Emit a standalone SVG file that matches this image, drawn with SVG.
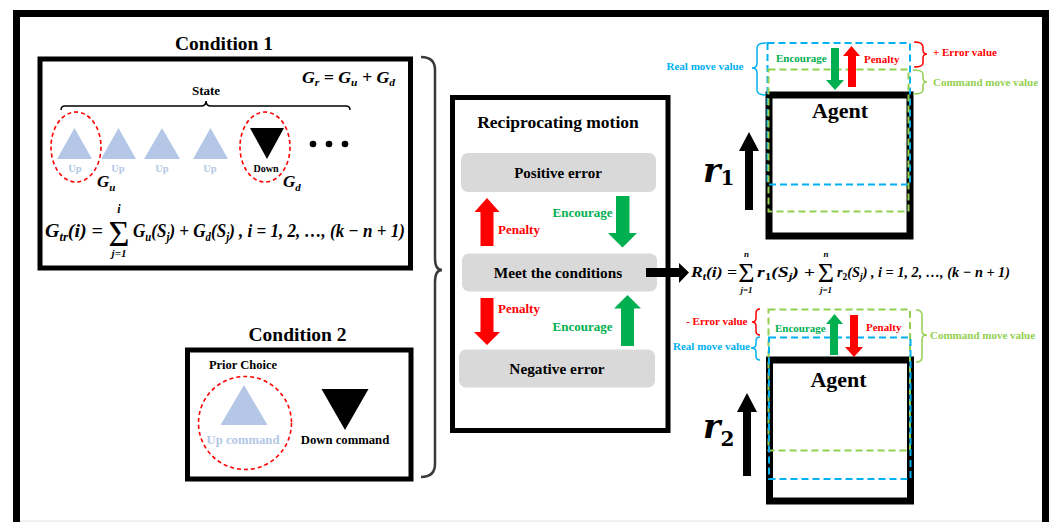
<svg xmlns="http://www.w3.org/2000/svg" width="1054" height="522" viewBox="0 0 1054 522">
<style>
.t{font-family:"Liberation Serif","Times New Roman",serif;font-weight:bold}
.m{font-family:"Liberation Serif","Times New Roman",serif;font-weight:bold;font-style:italic}
.rr{font-family:"DejaVu Serif",serif;font-weight:bold;font-style:italic}
.up{font-style:normal}
.sig{font-family:"Liberation Serif","Times New Roman",serif}
.box{fill:none;stroke:#000}
.gray{fill:#d9d9d9}
.red{fill:#ff0000}
.grn{fill:#00b050}
.ub{fill:#b4c7e7}
.dR{fill:none;stroke:#ff0000;stroke-width:1.6;stroke-dasharray:4 3}
.dB{fill:none;stroke:#00b0f0;stroke-width:2;stroke-dasharray:7 4}
.dG{fill:none;stroke:#92d050;stroke-width:2;stroke-dasharray:7 4}
.br{fill:none;stroke-width:1.5}
</style>
<rect width="1054" height="522" fill="#fff"/>
<rect id="frame" x="16.5" y="13.5" width="1029" height="530" class="box" stroke-width="7"/>
<line x1="20" y1="521" x2="1042" y2="521" stroke="#e2e2e2" stroke-width="1"/>

<g id="condition1">
  <text x="224" y="50" class="t" font-size="19.5" text-anchor="middle">Condition 1</text>
  <rect x="40" y="59" width="370.5" height="209" class="box" stroke-width="5"/>
  <text x="302" y="83" class="m" font-size="17" textLength="93" lengthAdjust="spacingAndGlyphs">G<tspan font-size="11" dy="3">r</tspan><tspan dy="-3"> = G</tspan><tspan font-size="11" dy="3">u</tspan><tspan dy="-3"> + G</tspan><tspan font-size="11" dy="3">d</tspan></text>
  <text x="206" y="95" class="t" font-size="13" text-anchor="middle">State</text>
  <path d="M61,110 Q61,106 65,106 L201,106 Q206,106 206,101 Q206,106 211,106 L346,106 Q350,106 350,110" class="br" stroke="#000"/>
  <polygon points="74.5,128 92,159 57,159" class="ub"/>
  <polygon points="118.5,128 136,159 101,159" class="ub"/>
  <polygon points="162,128 180,159 144,159" class="ub"/>
  <polygon points="210.5,128 228,159 193,159" class="ub"/>
  <polygon points="250,128 284,128 267,159" fill="#000"/>
  <g class="t" font-size="10.5" text-anchor="middle" fill="#b4c7e7">
    <text x="75" y="172">Up</text>
    <text x="118" y="172">Up</text>
    <text x="162" y="172">Up</text>
    <text x="210" y="172">Up</text>
  </g>
  <text x="266" y="172" class="t" font-size="10" text-anchor="middle">Down</text>
  <ellipse cx="76" cy="147" rx="25" ry="35" class="dR"/>
  <ellipse cx="265" cy="147" rx="25" ry="35" class="dR"/>
  <circle cx="313" cy="144" r="3.3"/>
  <circle cx="329" cy="144" r="3.3"/>
  <circle cx="345" cy="144" r="3.3"/>
  <text x="97" y="187" class="m" font-size="17">G<tspan font-size="11" dy="4">u</tspan></text>
  <text x="283" y="187" class="m" font-size="17">G<tspan font-size="11" dy="4">d</tspan></text>
  <text x="45" y="237" class="m" font-size="19" textLength="58" lengthAdjust="spacingAndGlyphs">G<tspan font-size="12" dy="4">tr</tspan><tspan dy="-4">(i) =</tspan></text>
  <text x="119" y="246" class="sig" font-size="36" text-anchor="middle">Σ</text>
  <text x="119" y="213" class="m" font-size="12" text-anchor="middle">i</text>
  <text x="119" y="257" class="m" font-size="11" text-anchor="middle">j=1</text>
  <text x="133" y="237" class="m" font-size="19" textLength="272" lengthAdjust="spacingAndGlyphs">G<tspan font-size="12" dy="4">u</tspan><tspan dy="-4">(S</tspan><tspan font-size="12" dy="4">j</tspan><tspan dy="-4">) + G</tspan><tspan font-size="12" dy="4">d</tspan><tspan dy="-4">(S</tspan><tspan font-size="12" dy="4">j</tspan><tspan dy="-4">) , i = 1, 2, …, (k − n + 1)</tspan></text>
</g>

<g id="condition2">
  <text x="297.5" y="341" class="t" font-size="19.5" text-anchor="middle">Condition 2</text>
  <rect x="187.5" y="350" width="223.5" height="129" class="box" stroke-width="5"/>
  <text x="243" y="369" class="t" font-size="12.5" text-anchor="middle">Prior Choice</text>
  <circle cx="245" cy="423" r="46.5" class="dR"/>
  <polygon points="244,385 267.5,425 220.5,425" class="ub"/>
  <text x="243" y="444" class="t" font-size="12.7" text-anchor="middle" fill="#b4c7e7">Up command</text>
  <polygon points="321.5,389 368.5,389 345,430" fill="#000"/>
  <text x="345" y="444" class="t" font-size="12.7" text-anchor="middle">Down command</text>
</g>

<g id="reciprocating">
  <rect x="452.5" y="97.5" width="215.5" height="333" class="box" stroke-width="5"/>
  <text x="558" y="128" class="t" font-size="17.5" text-anchor="middle">Reciprocating motion</text>
  <g id="positive">
    <rect x="461" y="153" width="195" height="39" rx="7" class="gray"/>
    <text x="558" y="177.5" class="t" font-size="15" text-anchor="middle">Positive error</text>
  </g>
  <g id="meet">
    <rect x="462" y="253.5" width="195" height="38" rx="7" class="gray"/>
    <text x="558" y="278" class="t" font-size="15.3" text-anchor="middle">Meet the conditions</text>
  </g>
  <g id="negative">
    <rect x="459" y="349.5" width="196" height="38" rx="7" class="gray"/>
    <text x="557" y="374" class="t" font-size="15.3" text-anchor="middle">Negative error</text>
  </g>
  <polygon points="487,198 499.5,212 493.5,212 493.5,246 480.5,246 480.5,212 474.5,212" class="red"/>
  <text x="498" y="234" class="t" font-size="13" fill="#ff0000">Penalty</text>
  <polygon points="616,196 629.5,196 629.5,233 637,233 622.5,247.5 608,233 616,233" class="grn"/>
  <text x="612.5" y="216.5" class="t" font-size="13" fill="#00b050" text-anchor="end">Encourage</text>
  <polygon points="480.5,298 493.5,298 493.5,332 500,332 487,345 474,332 480.5,332" class="red"/>
  <text x="498" y="313" class="t" font-size="13" fill="#ff0000">Penalty</text>
  <polygon points="627.5,295 641,308.5 634,308.5 634,346 621,346 621,308.5 614,308.5" class="grn"/>
  <text x="612.5" y="331" class="t" font-size="13" fill="#00b050" text-anchor="end">Encourage</text>
</g>

<g id="connectors">
  <path d="M421,57 Q435,57 435,70 L435,258 Q435,270 442,270 Q435,270 435,282 L435,464 Q435,477 421,477" fill="none" stroke="#3a3a3a" stroke-width="2.5"/>
  <polygon points="646,268 679,268 679,263 689,272.5 679,283 679,277 646,277" fill="#000"/>
</g>

<g id="reward">
  <text x="691" y="277" class="m" font-size="15" textLength="46" lengthAdjust="spacingAndGlyphs">R<tspan font-size="10" dy="3">t</tspan><tspan dy="-3">(i) =</tspan></text>
  <text x="746.5" y="282" class="sig" font-size="28" text-anchor="middle">Σ</text>
  <text x="746.5" y="257" class="m" font-size="9" text-anchor="middle">n</text>
  <text x="746.5" y="293" class="m" font-size="9" text-anchor="middle">j=1</text>
  <text x="757" y="277" class="m" font-size="15" textLength="58" lengthAdjust="spacingAndGlyphs">r<tspan font-size="10" dy="3" class="up">1</tspan><tspan dy="-3">(S</tspan><tspan font-size="10" dy="3">j</tspan><tspan dy="-3">) +</tspan></text>
  <text x="826" y="282" class="sig" font-size="28" text-anchor="middle">Σ</text>
  <text x="826" y="257" class="m" font-size="9" text-anchor="middle">n</text>
  <text x="826" y="293" class="m" font-size="9" text-anchor="middle">j=1</text>
  <text x="837" y="277" class="m" font-size="15" textLength="173" lengthAdjust="spacingAndGlyphs">r<tspan font-size="10" dy="3" class="up">2</tspan><tspan dy="-3">(S</tspan><tspan font-size="10" dy="3">j</tspan><tspan dy="-3">) , i = 1, 2, …, (k − n + 1)</tspan></text>
</g>

<g id="agent1">
  <rect x="769" y="95" width="141" height="141" class="box" stroke-width="7"/>
  <text x="840" y="118" class="t" font-size="22" text-anchor="middle">Agent</text>
  <rect x="767.5" y="43" width="142.5" height="141.5" class="dB"/>
  <rect x="768.5" y="69.5" width="140" height="142" class="dG"/>
  <polygon points="831,48 839,48 839,80 844,80 835,90 826,80 831,80" class="grn"/>
  <polygon points="851.5,46 860,56 856,56 856,87 848,87 848,56 843,56" class="red"/>
  <text x="776" y="62" class="t" font-size="11" fill="#00b050">Encourage</text>
  <text x="864" y="63" class="t" font-size="11" fill="#ff0000">Penalty</text>
  <path d="M766,43 Q757,43 757,48 L757,63 Q757,68 752,68 Q757,68 757,73 L757,90 Q757,95 766,95" class="br" stroke="#00b0f0"/>
  <text x="743.5" y="70" class="t" font-size="11" fill="#00b0f0" text-anchor="end">Real move value</text>
  <path d="M914,42 Q923,42 923,47 L923,50 Q923,54 927,54 Q923,54 923,58 L923,63 Q923,67 914,67" class="br" stroke="#ff0000"/>
  <text x="933" y="56" class="t" font-size="11" fill="#ff0000">+ Error value</text>
  <path d="M913,70 Q923,70 923,74 L923,78 Q923,82 927,82 Q923,82 923,86 L923,90 Q923,94 913,94" class="br" stroke="#92d050"/>
  <text x="933" y="86" class="t" font-size="11" fill="#92d050">Command move value</text>
  <polygon points="749,132 759,151 753,151 753,210 745,210 745,151 739,151" fill="#000"/>
  <text x="703" y="182" class="rr" font-size="33">r<tspan font-size="20" dy="3" class="up">1</tspan></text>
</g>

<g id="agent2">
  <rect x="769.5" y="360" width="141" height="141" class="box" stroke-width="7"/>
  <text x="838.5" y="387" class="t" font-size="22" text-anchor="middle">Agent</text>
  <rect x="768.5" y="309.5" width="141.5" height="141" class="dG"/>
  <rect x="769" y="337.5" width="141.5" height="141.5" class="dB"/>
  <polygon points="834.5,314 843,324 838,324 838,355 830,355 830,324 826,324" class="grn"/>
  <polygon points="850,315 858,315 858,347 863,347 854,357 845,347 850,347" class="red"/>
  <text x="775" y="332" class="t" font-size="11" fill="#00b050">Encourage</text>
  <text x="866" y="331" class="t" font-size="11" fill="#ff0000">Penalty</text>
  <path d="M760,309 Q756,309 756,313 L756,318 Q756,322 752,322 Q756,322 756,326 L756,331 Q756,335 760,335" class="br" stroke="#ff0000"/>
  <text x="747.5" y="325" class="t" font-size="11" fill="#ff0000" text-anchor="end">- Error value</text>
  <path d="M760,337 Q756,337 756,341 L756,344 Q756,348 751,348 Q756,348 756,352 L756,356 Q756,360 760,360" class="br" stroke="#00b0f0"/>
  <text x="750" y="349.5" class="t" font-size="11" fill="#00b0f0" text-anchor="end">Real move value</text>
  <path d="M916,310 Q922,310 922,315 L922,331 Q922,335 927,335 Q922,335 922,339 L922,357 Q922,362 916,362" class="br" stroke="#92d050"/>
  <text x="930" y="338.5" class="t" font-size="11" fill="#92d050">Command move value</text>
  <polygon points="747,393 757,412 751,412 751,476 743,476 743,412 737,412" fill="#000"/>
  <text x="703" y="438" class="rr" font-size="33">r<tspan font-size="20" dy="8" class="up">2</tspan></text>
</g>
</svg>
